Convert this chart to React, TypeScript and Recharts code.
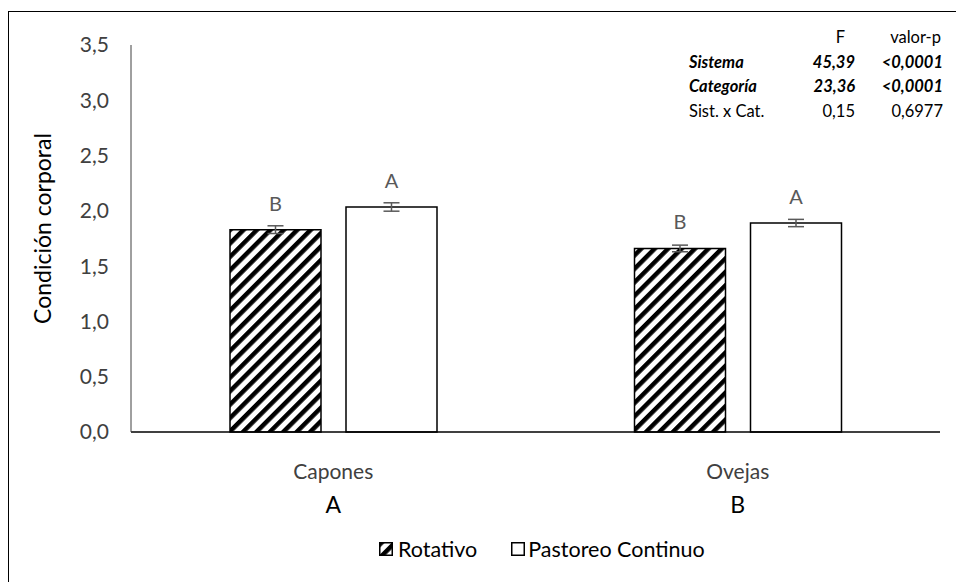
import React from 'react';
import { BarChart, Bar, XAxis, YAxis, ErrorBar, LabelList } from 'recharts';

const categories = ['Capones', 'Ovejas'];
const categoryLetters = ['A', 'B'];
const rotativo = [1.83, 1.66];
const rotativoErr = [0.035, 0.03];
const rotativoLetters = ['B', 'B'];
const pastoreo = [2.035, 1.89];
const pastoreoErr = [0.038, 0.033];
const pastoreoLetters = ['A', 'A'];
const yTicks = [0, 0.5, 1, 1.5, 2, 2.5, 3, 3.5];

const anovaRows = [
  { name: 'Sistema', f: '45,39', p: '<0,0001', bold: true },
  { name: 'Categoría', f: '23,36', p: '<0,0001', bold: true },
  { name: 'Sist. x Cat.', f: '0,15', p: '0,6977', bold: false },
];

const data = categories.map((c, i) => ({
  name: c,
  rot: rotativo[i],
  rotErr: rotativoErr[i],
  rotLetter: rotativoLetters[i],
  pas: pastoreo[i],
  pasErr: pastoreoErr[i],
  pasLetter: pastoreoLetters[i],
}));

const FONT = 'Lato, "Open Sans", sans-serif';
const fmt = (v: number) => v.toFixed(1).replace('.', ',');

const CategoryTick = ({ x, y, payload, index }: any) => (
  <g>
    <text x={x} y={y + 39} textAnchor="middle" fontSize={21} fill="#404040" fontFamily={FONT}>
      {payload.value}
    </text>
    <text x={x} y={y + 73} textAnchor="middle" fontSize={23} fill="#000" fontFamily={FONT}>
      {categoryLetters[index]}
    </text>
  </g>
);

const letterLabel = (key: string) => (props: any) => {
  const { x, y, width, index } = props;
  return (
    <text x={x + width / 2} y={y - 19} textAnchor="middle" fontSize={20} fill="#595959" fontFamily={FONT}>
      {(data as any)[index][key]}
    </text>
  );
};

export default function App() {
  return (
    <div style={{ position: 'absolute', left: 0, top: 0, width: 956, height: 582, background: '#fff', overflow: 'hidden' }}>
      {/* outer frame, only top and left edges fall inside the picture */}
      <div style={{ position: 'absolute', left: 8, top: 11, width: 1000, height: 1000, borderLeft: '1.5px solid #000', borderTop: '1.5px solid #000' }} />

      <BarChart
        width={956}
        height={582}
        data={data}
        margin={{ top: 45, right: 16, left: 71, bottom: 90 }}
        barSize={91}
        barGap={25}
        style={{ position: 'absolute', left: 0, top: 0 }}
      >
        <defs>
          <pattern id="hatch" patternUnits="userSpaceOnUse" width={9.5} height={9.5} patternTransform="rotate(45)">
            <rect width={9.5} height={9.5} fill="#fff" />
            <line x1={0} y1={0} x2={0} y2={9.5} stroke="#000" strokeWidth={9} />
          </pattern>
        </defs>
        <XAxis
          dataKey="name"
          height={60}
          tickLine={false}
          axisLine={{ stroke: '#000', strokeWidth: 1.5 }}
          tick={<CategoryTick />}
          interval={0}
        />
        <YAxis
          width={60}
          domain={[0, 3.5]}
          ticks={yTicks}
          tickFormatter={fmt}
          tickLine={false}
          tickSize={0}
          tickMargin={22}
          axisLine={{ stroke: '#404040', strokeWidth: 1 }}
          tick={{ fontSize: 21, fill: '#404040', fontFamily: FONT }}
          label={{
            value: 'Condición corporal',
            angle: -90,
            position: 'center',
            dx: -58,
            dy: -10,
            style: { fontSize: 23, fill: '#000', fontFamily: FONT, textAnchor: 'middle' },
          }}
        />
        <Bar dataKey="rot" name="Rotativo" fill="url(#hatch)" stroke="#000" strokeWidth={1.5} isAnimationActive={false}>
          <ErrorBar dataKey="rotErr" width={8} stroke="#595959" strokeWidth={1.5} direction="y" />
          <LabelList dataKey="rot" content={letterLabel('rotLetter')} />
        </Bar>
        <Bar dataKey="pas" name="Pastoreo Continuo" fill="#fff" stroke="#000" strokeWidth={1.5} isAnimationActive={false}>
          <ErrorBar dataKey="pasErr" width={8} stroke="#595959" strokeWidth={1.5} direction="y" />
          <LabelList dataKey="pas" content={letterLabel('pasLetter')} />
        </Bar>
      </BarChart>

      {/* legend */}
      <div style={{ position: 'absolute', left: 379, top: 535, display: 'flex', alignItems: 'center', fontFamily: FONT, fontSize: 21.5, color: '#000', lineHeight: '28px' }}>
        <svg width={14} height={14} style={{ marginRight: 5 }}>
          <rect x={0.75} y={0.75} width={12.5} height={12.5} fill="url(#hatch)" stroke="#000" strokeWidth={1.5} />
        </svg>
        <span style={{ marginRight: 34 }}>Rotativo</span>
        <svg width={14} height={14} style={{ marginRight: 3 }}>
          <rect x={0.75} y={0.75} width={12.5} height={12.5} fill="#fff" stroke="#000" strokeWidth={1.5} />
        </svg>
        <span>Pastoreo Continuo</span>
      </div>

      {/* ANOVA table, top right */}
      <div style={{ position: 'absolute', left: 689, top: 25, fontFamily: FONT, fontSize: 16.5, color: '#000', lineHeight: '24.5px' }}>
        <div style={{ display: 'flex' }}>
          <span style={{ width: 96 }} />
          <span style={{ width: 70, textAlign: 'right', paddingRight: 10, boxSizing: 'border-box' }}>F</span>
          <span style={{ width: 88, textAlign: 'right', paddingRight: 2, boxSizing: 'border-box' }}>valor-p</span>
        </div>
        {anovaRows.map((r) => (
          <div key={r.name} style={{ display: 'flex', fontWeight: r.bold ? 700 : 400, fontStyle: r.bold ? 'italic' : 'normal' }}>
            <span style={{ width: 96 }}>{r.name}</span>
            <span style={{ width: 70, textAlign: 'right' }}>{r.f}</span>
            <span style={{ width: 88, textAlign: 'right' }}>{r.p}</span>
          </div>
        ))}
      </div>
    </div>
  );
}
